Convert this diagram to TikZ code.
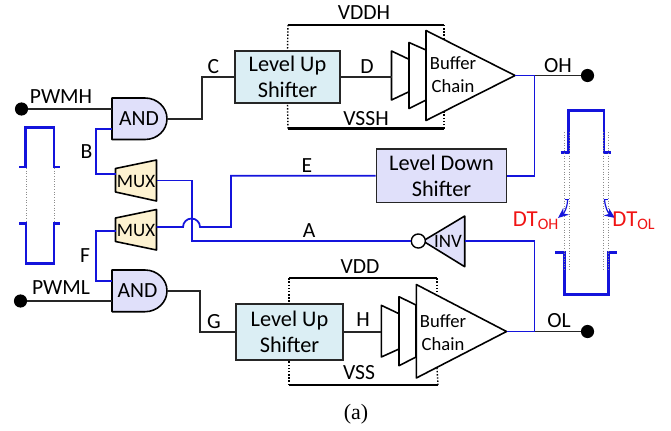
\documentclass[tikz,border=0pt]{standalone}
\usepackage{fontspec}
\setmainfont{Carlito}
\newfontfamily\capfont{Liberation Serif}
\usetikzlibrary{shapes, backgrounds, arrows.meta}
\definecolor{sigblue}{RGB}{20,20,220}
\definecolor{gatefill}{RGB}{224,224,250}
\definecolor{muxfill}{RGB}{253,242,208}
\definecolor{upfill}{RGB}{219,238,244}
\definecolor{dtred}{RGB}{240,20,20}
\tikzset{
  wire/.style={draw=black!85,line width=1pt},
  bluewire/.style={draw=sigblue,line width=1pt},
  wave/.style={draw=sigblue,line width=1.5pt},
  dtarrow/.style={draw=sigblue,line width=0.7pt,-{Stealth[length=6pt,width=5pt]}},
  rail/.style={draw=black,line width=1.2pt},
  railtap/.style={draw=black,line width=0.8pt,densely dotted},
  guide/.style={draw=black!45,line width=0.5pt,densely dotted},
  blockbox/.style={draw=black!85,line width=0.9pt,inner sep=0pt,align=center,font=\fontsize{12.7}{14.7}\selectfont},
  gate/.style={draw=black,line width=0.9pt,line join=round},
  pin/.style={circle,fill=black,inner sep=0pt,minimum size=7.5pt},
  lab/.style={inner sep=0pt,font=\fontsize{12.3}{14}\selectfont},
  chainlab/.style={lab,align=center,font=\fontsize{10.6}{12.8}\selectfont}
}

\begin{document}
\begin{tikzpicture}[x=0.02cm,y=-0.02cm]
\useasboundingbox (0,0) rectangle (671,430);

% upper side
\coordinate (vh1) at (288,25);
\coordinate (vh2) at (444,25);
\coordinate (vl1) at (288,128.5);
\coordinate (vl2) at (444,128.5);
\node[pin] (pwmh) at (21.5,109) {};
\node[pin] (oh) at (587.5,75.5) {};
\node[pin] (pwml) at (20.5,301) {};
\node[pin] (ol) at (587.5,331.5) {};

\node[blockbox,fill=upfill,minimum width=2.1cm,minimum height=1.05cm] (lu1) at (287.5,77) {Level Up\\Shifter};
\node[blockbox,fill=gatefill,minimum width=2.6cm,minimum height=1.07cm] (ld) at (441.5,175.7) {Level Down\\Shifter};
\node[blockbox,fill=upfill,minimum width=2.13cm,minimum height=1.12cm] (lu2) at (289.5,332) {Level Up\\Shifter};

\draw[rail] (vh1) -- (vh2);
\draw[rail] (vl1) -- (vl2);
\draw[railtap] (vh1) -- (lu1.north);
\draw[railtap] (vl1) -- (lu1.south);
\draw[railtap] (vh2) -- (444,38);
\draw[railtap] (vl2) -- (444,112);

% lower side
\coordinate (wh1) at (289,278.3);
\coordinate (wh2) at (437,278.3);
\coordinate (wl1) at (289,385);
\coordinate (wl2) at (438,385);
\draw[rail] (wh1) -- (wh2);
\draw[rail] (wl1) -- (wl2);
\draw[railtap] (wh1) -- (lu2.north -| wh1);
\draw[railtap] (wl1) -- (lu2.south -| wl1);
\draw[railtap] (wh2) -- (437,293);
\draw[railtap] (wl2) -- (437,368);

% buffer chains
\draw[gate] (391.5,51) -- (409,59.3) -- (409,91.7) -- (391.5,100) -- cycle;
\draw[gate] (409,42.5) -- (426,50) -- (426,100) -- (409,108.5) -- cycle;
\draw[gate,fill=white] (426,30.5) -- (515,75.5) -- (426,120.5) -- cycle;
\node[chainlab] (bufh) at (453,74.5) {Buffer\\Chain};
\draw[gate] (381.3,305.3) -- (399,313.7) -- (399,349) -- (381.3,357) -- cycle;
\draw[gate] (399,296.7) -- (416,305) -- (416,357) -- (399,365.7) -- cycle;
\draw[gate,fill=white] (416.3,284.5) -- (506.5,331.5) -- (416.3,378) -- cycle;
\node[chainlab] (bufl) at (443,332.5) {Buffer\\Chain};

% and gates
\draw[gate,fill=gatefill] (112,98) -- (145,98) arc (-90:90:22 and 20.75) -- (112,139.5) -- cycle;
\node[lab] (and1) at (139,119) {AND};
\draw[gate,fill=gatefill] (112,270) -- (145,270) arc (-90:90:22 and 20.85) -- (112,311.7) -- cycle;
\node[lab] (and2) at (137.5,291) {AND};

% mux
\draw[gate,fill=muxfill] (115.5,168.5) -- (156.5,160) -- (156.5,201) -- (115.5,192) -- cycle;
\node[lab,font=\fontsize{10.8}{13}\selectfont] (mux1) at (136,181) {MUX};
\draw[gate,fill=muxfill] (115.5,218) -- (156.5,209.5) -- (156.5,250) -- (115.5,241.5) -- cycle;
\node[lab,font=\fontsize{10.8}{13}\selectfont] (mux2) at (136,230) {MUX};

% inverter
\draw[gate,fill=gatefill] (423,241) -- (464.7,216) -- (464.7,266.7) -- cycle;
\node[circle,draw=black,line width=0.8pt,fill=white,inner sep=0pt,minimum size=8pt] (bub) at (418.3,241) {};
\node[lab,font=\fontsize{10.8}{13}\selectfont] (inv) at (448,241) {INV};

% wires
\draw[wire] (pwmh) -- (112,109);
\draw[wire] (167,119) -- (202,119) -- (202,77) -- (lu1.west);
\draw[wire] (lu1.east) -- (391.5,77);
\draw[wire] (515,75.5) -- (oh);
\draw[wire] (pwml) -- (112,301);
\draw[wire] (167,291) -- (200,291) -- (200,332) -- (lu2.west);
\draw[wire] (lu2.east) -- (381.3,332);
\draw[wire] (506.5,331.5) -- (ol);
\draw[bluewire] (515,75.5) -- (534.5,75.5);
\draw[bluewire] (506.5,331.5) -- (534.5,331.5);
\draw[bluewire] (534.5,75.5) -- (534.5,175.7) -- (ld.east);
\draw[bluewire] (ld.west) -- (231,175.7) -- (231,227) -- (200,227) arc (0:-180:8.5) -- (156.5,227);
\draw[bluewire] (156.5,180.5) -- (192,180.5) -- (192,241) -- (bub.west);
\draw[bluewire] (464.7,241) -- (534.5,241) -- (534.5,331.5);
\draw[bluewire] (112,129) -- (96,129) -- (96,174) -- (115.5,174);
\draw[bluewire] (115.5,230.7) -- (96,230.7) -- (96,281) -- (112,281);

% labels
\node[lab] (tpwmh) at (61,97) {PWMH};
\node[lab] (tpwml) at (61,288) {PWML};
\node[lab] (tb) at (86.5,152) {B};
\node[lab] (tf) at (85,256) {F};
\node[lab] (tc) at (213.5,66.5) {C};
\node[lab] (tg) at (214,321.5) {G};
\node[lab] (td) at (367,66.5) {D};
\node[lab] (th) at (363,320) {H};
\node[lab] (te) at (307,166) {E};
\node[lab] (ta) at (309,231) {A};
\node[lab] (toh) at (558,65.5) {OH};
\node[lab] (tol) at (559,321) {OL};
\node[lab] (tvddh) at (364,13) {VDDH};
\node[lab] (tvssh) at (366,119) {VSSH};
\node[lab] (tvdd) at (360,267) {VDD};
\node[lab] (tvss) at (359,373) {VSS};
\node[inner sep=0pt,font=\capfont\fontsize{12.5}{14}\selectfont] (tcap) at (356,414) {(a)};

% waveforms
\draw[wave] (19.3,167) -- (25.7,167) -- (25.7,127.7) -- (54,127.7) -- (54,167) -- (60,167);
\draw[wave] (19.3,223.3) -- (26,223.3) -- (26,263.3) -- (54,263.3) -- (54,223.3) -- (60,223.3);
\draw[guide] (26,168) -- (26,222);
\draw[guide] (54,168) -- (54,222);
\draw[wave] (560.7,152.7) -- (568.3,152.7) -- (568.3,110.7) -- (604,110.7) -- (604,152.7) -- (610.7,152.7);
\draw[wave] (555,252.3) -- (564.3,252.3) -- (564.3,294.3) -- (608.3,294.3) -- (608.3,252.3) -- (616.7,252.3);
\draw[guide] (564.3,132) -- (564.3,270);
\draw[guide] (569,132) -- (569,270);
\draw[guide] (603.5,132) -- (603.5,270);
\draw[guide] (608,132) -- (608,270);

% dead time marks
\coordinate (dh1) at (564.5,199.3);
\coordinate (dh2) at (569,199.3);
\coordinate (dl1) at (603.5,199.3);
\coordinate (dl2) at (608,199.3);
\draw[draw=sigblue,line width=0.7pt] (dh1) -- (dh2);
\draw[draw=sigblue,line width=0.7pt] (dl1) -- (dl2);
\draw[dtarrow] (567.5,199.3) .. controls (567.5,208) and (564,213) .. (558,218);
\draw[dtarrow] (604.5,199.3) .. controls (605,207) and (608,213) .. (615,218);
\node[lab,text=dtred,font=\fontsize{13}{15}\selectfont] (tdth) at (536,221) {DT\textsubscript{OH}};
\node[lab,text=dtred,font=\fontsize{13}{15}\selectfont] (tdtl) at (634,221) {DT\textsubscript{OL}};
\end{tikzpicture}
\end{document}
